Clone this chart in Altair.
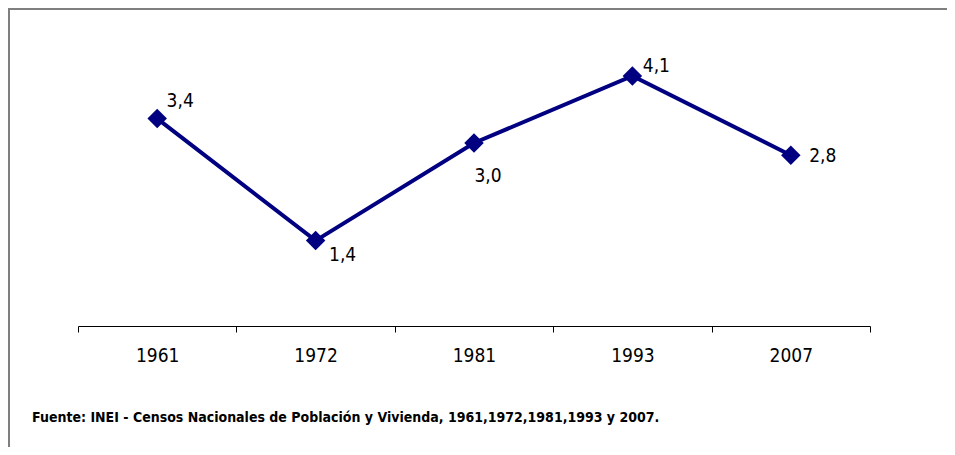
import altair as alt
import pandas as pd

years = ["1961", "1972", "1981", "1993", "2007"]
values = [3.4, 1.4, 3.0, 4.1, 2.8]
labels = ["3,4", "1,4", "3,0", "4,1", "2,8"]
source = "Fuente: INEI - Censos Nacionales de Población y Vivienda, 1961,1972,1981,1993 y 2007."

df = pd.DataFrame({"year": years, "value": values, "label": labels})

FONT = "'Liberation Sans Narrow', 'DejaVu Sans Condensed', 'Roboto Condensed', Roboto, sans-serif"
NAVY = "#000080"

xenc = alt.X("year:N", sort=years, title=None,
             scale=alt.Scale(type="band", paddingInner=0, paddingOuter=0),
             axis=alt.Axis(tickBand="extent", domainColor="#000000", tickColor="#000000",
                           tickSize=6, labelAngle=0, labelFont=FONT, labelFontSize=19,
                           labelColor="#000000", labelPadding=14, grid=False))
yenc = alt.Y("value:Q", scale=alt.Scale(domain=[0, 5], nice=False), axis=None)

base = alt.Chart(df)
line = base.mark_line(color=NAVY, strokeWidth=4).encode(x=xenc, y=yenc)
pts = base.mark_point(shape="diamond", filled=True, size=380, color=NAVY, opacity=1).encode(x=xenc, y=yenc)

offsets = {"1961": (23, -18), "1972": (27, 14), "1981": (14, 33), "1993": (24, -10), "2007": (32, 1)}
texts = []
for yr in years:
    dx, dy = offsets[yr]
    texts.append(
        base.transform_filter(alt.datum.year == yr)
        .mark_text(font=FONT, fontSize=19, color="#000000", dx=dx, dy=dy, align="center", baseline="middle")
        .encode(x=xenc, y=yenc, text="label:N")
    )

footer = alt.Chart(pd.DataFrame({"t": [source]})).mark_text(
    font=FONT, fontSize=14, fontWeight="bold", color="#000000", align="left", baseline="middle"
).encode(x=alt.value(-46), y=alt.value(397), text="t:N")

frame_top = alt.Chart(pd.DataFrame({"a": [0]})).mark_rule(color="#7f7f7f", strokeWidth=2).encode(
    x=alt.value(-70), x2=alt.value(900), y=alt.value(-12))
frame_left = alt.Chart(pd.DataFrame({"a": [0]})).mark_rule(color="#7f7f7f", strokeWidth=2).encode(
    x=alt.value(-69), y=alt.value(-13), y2=alt.value(460))

chart = alt.layer(frame_top, frame_left, line, pts, *texts, footer).properties(
    width=792, height=305,
    autosize=alt.AutoSizeParams(type="none"),
    padding={"left": 70, "top": 13, "right": 77, "bottom": 121},
    background="#ffffff",
).configure_view(stroke=None, strokeWidth=0)

chart.save("out.html", embed_options={"renderer": "svg", "actions": False})
